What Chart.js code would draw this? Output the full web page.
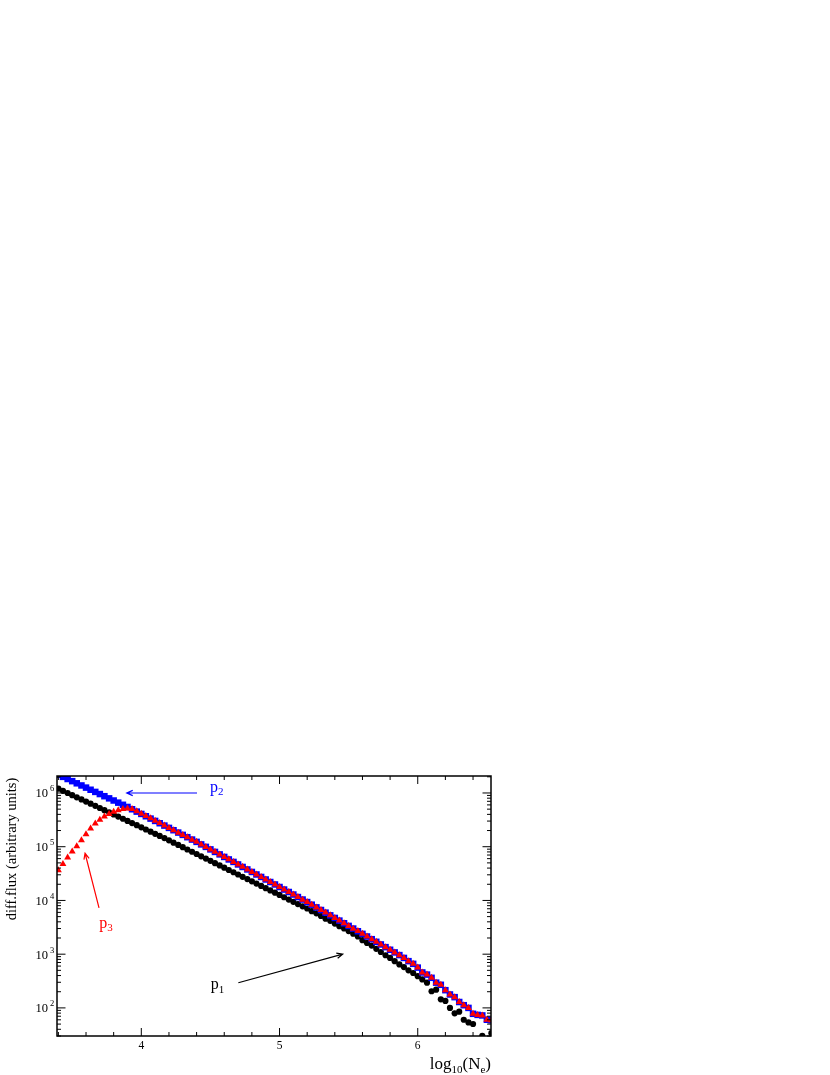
<!DOCTYPE html>
<html lang="en">
<head>
<meta charset="UTF-8">
<title>diff.flux vs log10(Ne)</title>
<script src="https://cdn.jsdelivr.net/npm/chart.js"></script>
<style>
    html, body { margin: 0; padding: 0; background: #fff; }
    .wrapper { position: relative; width: 830px; height: 1075px; }
</style>
</head>
<body>
<div class="wrapper"><canvas id="fluxChart"></canvas></div>
<script>
// bin centres in log10(Ne)
const logNe = [
    3.400, 3.433, 3.467, 3.500, 3.533, 3.567, 3.600, 3.633, 3.667, 3.700,
    3.733, 3.767, 3.800, 3.833, 3.867, 3.900, 3.933, 3.967, 4.000, 4.033,
    4.067, 4.100, 4.133, 4.167, 4.200, 4.233, 4.267, 4.300, 4.333, 4.367,
    4.400, 4.433, 4.467, 4.500, 4.533, 4.567, 4.600, 4.633, 4.667, 4.700,
    4.733, 4.767, 4.800, 4.833, 4.867, 4.900, 4.933, 4.967, 5.000, 5.033,
    5.067, 5.100, 5.133, 5.167, 5.200, 5.233, 5.267, 5.300, 5.333, 5.367,
    5.400, 5.433, 5.467, 5.500, 5.533, 5.567, 5.600, 5.633, 5.667, 5.700,
    5.733, 5.767, 5.800, 5.833, 5.867, 5.900, 5.933, 5.967, 6.000, 6.033,
    6.067, 6.100, 6.133, 6.167, 6.200, 6.233, 6.267, 6.300, 6.333, 6.367,
    6.400, 6.433, 6.467, 6.500, 6.533
];

// log10 of diff.flux
const p1Flux = [
    6.08, 6.04, 6.00, 5.96, 5.92, 5.88, 5.84, 5.80, 5.76, 5.72,
    5.68, 5.64, 5.60, 5.56, 5.52, 5.48, 5.44, 5.40, 5.36, 5.32,
    5.28, 5.24, 5.20, 5.16, 5.118, 5.075, 5.033, 4.991, 4.948, 4.906,
    4.864, 4.821, 4.779, 4.737, 4.694, 4.652, 4.610, 4.567, 4.525, 4.483,
    4.440, 4.398, 4.356, 4.313, 4.271, 4.229, 4.186, 4.144, 4.102, 4.059,
    4.017, 3.975, 3.932, 3.89, 3.85, 3.80, 3.76, 3.71, 3.66, 3.62,
    3.57, 3.52, 3.48, 3.43, 3.38, 3.33, 3.26, 3.21, 3.16, 3.10,
    3.04, 2.98, 2.93, 2.87, 2.81, 2.76, 2.70, 2.65, 2.59, 2.53,
    2.47, 2.31, 2.34, 2.16, 2.13, 2.00, 1.90, 1.93, 1.78, 1.73,
    1.70, 1.30, 1.48, 1.30, 1.53
];

const p2Flux = [
    6.34, 6.30, 6.26, 6.22, 6.18, 6.14, 6.10, 6.06, 6.02, 5.98,
    5.94, 5.90, 5.86, 5.82, 5.78, 5.74, 5.697, 5.653, 5.61, 5.567,
    5.523, 5.48, 5.437, 5.393, 5.35, 5.307, 5.263, 5.22, 5.177, 5.133,
    5.09, 5.043, 4.997, 4.95, 4.903, 4.857, 4.81, 4.763, 4.717, 4.67,
    4.623, 4.577, 4.53, 4.483, 4.437, 4.39, 4.343, 4.297, 4.25, 4.203,
    4.157, 4.11, 4.063, 4.017, 3.97, 3.921, 3.871, 3.822, 3.773, 3.723,
    3.674, 3.625, 3.575, 3.526, 3.477, 3.427, 3.378, 3.329, 3.279, 3.23,
    3.181, 3.131, 3.082, 3.033, 2.983, 2.93, 2.87, 2.82, 2.75, 2.66,
    2.62, 2.56, 2.47, 2.43, 2.33, 2.25, 2.20, 2.11, 2.05, 2.00,
    1.89, 1.87, 1.86, 1.78, 1.77
];

const p3Flux = [
    4.56, 4.68, 4.80, 4.91, 5.01, 5.12, 5.23, 5.34, 5.43, 5.50,
    5.56, 5.61, 5.65, 5.68, 5.70, 5.71, 5.70, 5.66, 5.615, 5.57,
    5.53, 5.485, 5.44, 5.395, 5.35, 5.305, 5.26, 5.22, 5.175, 5.13,
    5.09, 5.04, 4.995, 4.95, 4.905, 4.855, 4.81, 4.765, 4.715, 4.67,
    4.625, 4.575, 4.53, 4.485, 4.435, 4.39, 4.345, 4.295, 4.25, 4.205,
    4.155, 4.11, 4.065, 4.015, 3.97, 3.92, 3.87, 3.82, 3.775, 3.725,
    3.675, 3.625, 3.575, 3.525, 3.475, 3.43, 3.38, 3.33, 3.28, 3.23,
    3.18, 3.13, 3.08, 3.03, 2.98, 2.93, 2.87, 2.82, 2.75, 2.66,
    2.62, 2.56, 2.47, 2.43, 2.33, 2.25, 2.20, 2.11, 2.05, 2.00,
    1.89, 1.87, 1.86, 1.78, 1.77
];

const xTickLabels = [4, 5, 6];
const yTickExponents = [2, 3, 4, 5, 6];

const FONT = '"Liberation Serif", "Times New Roman", serif';

// annotation labels + arrows, in data units (log10 Ne, flux)
const notes = [
    { sub: '2', color: '#0000ff', at: [4.497, 1.05e6], from: [4.403, 1e6], to: [3.895, 1e6] },
    { sub: '3', color: '#ff0000', at: [3.696, 10 ** 3.49], from: [3.694, 10 ** 3.86], to: [3.593, 10 ** 4.878] },
    { sub: '1', color: '#000000', at: [4.502, 10 ** 2.35], from: [4.702, 10 ** 2.469], to: [5.457, 10 ** 3.0] }
];

const toPoints = ys => logNe.map((x, i) => ({ x: x, y: Math.pow(10, ys[i]) }));

function drawParts(ctx, parts, x, y, align) {
    let total = 0;
    parts.forEach(p => {
        ctx.font = p.size + 'px ' + FONT;
        p.w = ctx.measureText(p.t).width;
        total += p.w;
    });
    let cx = align === 'right' ? x - total : x;
    ctx.textAlign = 'left';
    parts.forEach(p => {
        ctx.font = p.size + 'px ' + FONT;
        ctx.fillText(p.t, cx, y + (p.dy || 0));
        cx += p.w;
    });
}

function drawArrow(ctx, x1, y1, x2, y2, color) {
    const a = Math.atan2(y2 - y1, x2 - x1);
    const len = 6.5, spread = 0.42;
    ctx.strokeStyle = color;
    ctx.lineWidth = 1.2;
    ctx.beginPath();
    ctx.moveTo(x1, y1);
    ctx.lineTo(x2, y2);
    ctx.moveTo(x2 - len * Math.cos(a - spread), y2 - len * Math.sin(a - spread));
    ctx.lineTo(x2, y2);
    ctx.lineTo(x2 - len * Math.cos(a + spread), y2 - len * Math.sin(a + spread));
    ctx.stroke();
}

const framePlugin = {
    id: 'frame',
    afterDraw(chart) {
        const ctx = chart.ctx;
        const { left, right, top, bottom } = chart.chartArea;
        const xs = chart.scales.x, ys = chart.scales.y;
        ctx.save();
        ctx.strokeStyle = '#000';
        ctx.fillStyle = '#000';
        ctx.lineWidth = 1;

        // x ticks, inward, bottom and top
        ctx.beginPath();
        for (let k = 17; k <= 32; k++) {
            const px = xs.getPixelForValue(k / 5);
            if (px < left || px > right) continue;
            const len = k % 5 === 0 ? 8 : 4;
            ctx.moveTo(px, bottom); ctx.lineTo(px, bottom - len);
            ctx.moveTo(px, top); ctx.lineTo(px, top + len);
        }
        // y ticks, inward, left and right
        for (let e = 1; e <= 6; e++) {
            for (let m = 1; m <= 9; m++) {
                const v = m * Math.pow(10, e);
                if (v < ys.min || v > ys.max) continue;
                const py = ys.getPixelForValue(v);
                const len = m === 1 ? 8.5 : 4;
                ctx.moveTo(left, py); ctx.lineTo(left + len, py);
                ctx.moveTo(right, py); ctx.lineTo(right - len, py);
            }
        }
        ctx.stroke();

        ctx.lineWidth = 1.5;
        ctx.strokeRect(left, top, right - left, bottom - top);

        // tick labels
        ctx.textBaseline = 'alphabetic';
        ctx.font = '11.5px ' + FONT;
        ctx.textAlign = 'center';
        xTickLabels.forEach(v => ctx.fillText(String(v), xs.getPixelForValue(v), bottom + 12.5));
        yTickExponents.forEach(e => {
            const py = ys.getPixelForValue(Math.pow(10, e));
            ctx.font = '12.5px ' + FONT;
            ctx.textAlign = 'right';
            ctx.fillText('10', left - 9, py + 4.5);
            ctx.font = '8.5px ' + FONT;
            ctx.textAlign = 'left';
            ctx.fillText(String(e), left - 7, py - 1.5);
        });

        // axis titles
        ctx.save();
        ctx.translate(15.5, 849);
        ctx.rotate(-Math.PI / 2);
        ctx.font = '14.5px ' + FONT;
        ctx.textAlign = 'center';
        ctx.fillText('diff.flux (arbitrary units)', 0, 0);
        ctx.restore();

        drawParts(ctx, [
            { t: 'log', size: 17 },
            { t: '10', size: 11, dy: 4 },
            { t: '(N', size: 17 },
            { t: 'e', size: 11, dy: 4 },
            { t: ')', size: 17 }
        ], right, 1069, 'right');

        // p labels with arrows
        notes.forEach(n => {
            ctx.fillStyle = n.color;
            drawParts(ctx, [
                { t: 'p', size: 16 },
                { t: n.sub, size: 11, dy: 3.5 }
            ], xs.getPixelForValue(n.at[0]), ys.getPixelForValue(n.at[1]), 'left');
            drawArrow(ctx,
                xs.getPixelForValue(n.from[0]), ys.getPixelForValue(n.from[1]),
                xs.getPixelForValue(n.to[0]), ys.getPixelForValue(n.to[1]), n.color);
        });
        ctx.restore();
    }
};

new Chart(document.getElementById('fluxChart').getContext('2d'), {
    type: 'scatter',
    data: {
        datasets: [
            { label: 'p3', data: toPoints(p3Flux), pointStyle: 'triangle', pointRadius: 4,
              backgroundColor: '#ff0000', borderColor: '#ff0000', borderWidth: 0, order: 0 },
            { label: 'p2', data: toPoints(p2Flux), pointStyle: 'rect', pointRadius: 4.6,
              backgroundColor: '#0000ff', borderColor: '#0000ff', borderWidth: 0, order: 1 },
            { label: 'p1', data: toPoints(p1Flux), pointStyle: 'circle', pointRadius: 3.1,
              backgroundColor: '#000000', borderColor: '#000000', borderWidth: 0, order: 2 }
        ]
    },
    options: {
        animation: false,
        responsive: true,
        maintainAspectRatio: false,
        layout: { padding: { left: 57, right: 339, top: 776, bottom: 39 } },
        plugins: { legend: { display: false }, tooltip: { enabled: false } },
        scales: {
            x: { type: 'linear', min: 3.39, max: 6.53, display: false },
            y: { type: 'logarithmic', min: 30, max: 2.07e6, display: false }
        }
    },
    plugins: [framePlugin]
});
</script>
</body>
</html>
